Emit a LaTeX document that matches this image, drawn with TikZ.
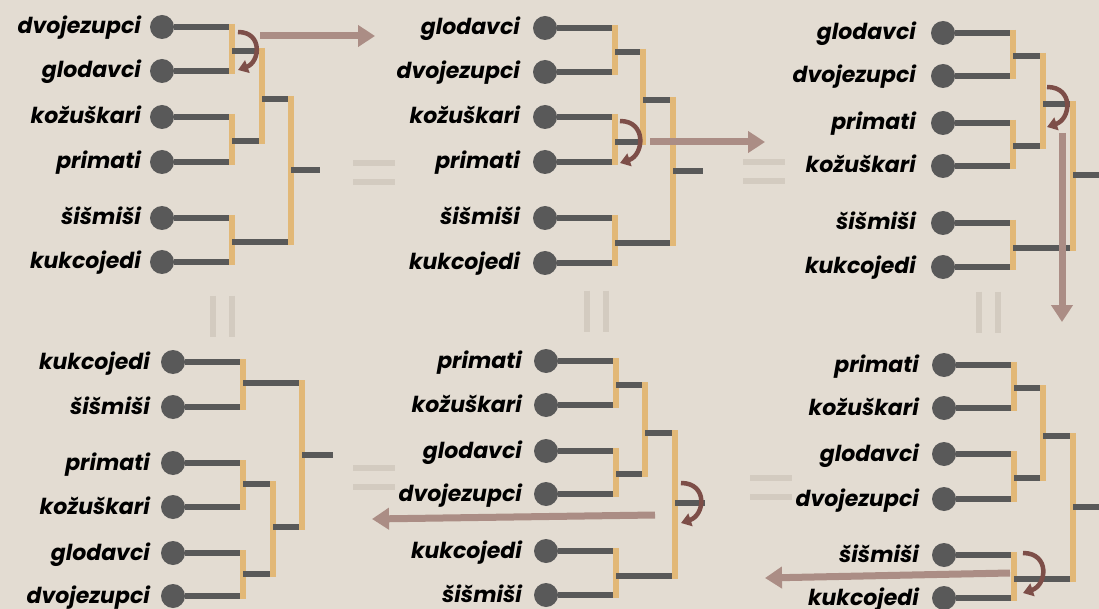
\documentclass[tikz,border=0pt]{standalone}
\usepackage{fontspec}
\setmainfont{Poppins}
\usetikzlibrary{arrows.meta}

\definecolor{bgcol}{HTML}{E3DCD2}
\definecolor{barorange}{HTML}{E2B877}
\definecolor{branchgray}{HTML}{595959}
\definecolor{movecol}{HTML}{AB8D85}
\definecolor{turncol}{HTML}{7D4E48}
\definecolor{eqcol}{HTML}{D3CBC0}

\tikzset{
	leaf/.style={circle, fill=branchgray, minimum size=24pt, inner sep=0pt},
	taxon/.style={anchor=base east, inner sep=0pt, font=\fontsize{22}{26}\selectfont\bfseries\itshape},
	branch/.style={draw=branchgray, line width=5.5pt},
	bar/.style={draw=barorange, line width=6pt, shorten <=-3pt, shorten >=-3pt},
	turn/.style={draw=turncol, line width=4.5pt, -{Triangle[length=10pt,width=13pt]}},
	move/.style={draw=movecol, line width=7pt, -{Triangle[length=17pt,width=21pt]}},
	eq/.style={draw=eqcol, line width=6pt},
}

% two children meet at the bar of their parent
\newcommand{\joinpair}[3]{%
	\draw[branch] (#1) -- (#1 -| #3);
	\draw[branch] (#2) -- (#2 -| #3);
	\draw[bar] (#1 -| #3) -- (#2 -| #3);
}

\begin{document}
\begin{tikzpicture}[x=1pt, y=-1pt]
	\fill[bgcol] (0,0) rectangle (1099,609);
	\useasboundingbox (0,0) rectangle (1099,609);
	% top left: starting tree
	\begin{scope}[shift={(162,27)}]
		\foreach \n/\t/\y in {a/dvojezupci/0, b/glodavci/44, c/kožuškari/90, d/primati/135, e/šišmiši/191, f/kukcojedi/235} {
			\node[leaf] (p1\n) at (0,\y) {};
			\node[taxon] (t1\n) at (-21,\y+7) {\t};
		}
		\coordinate (p1ab) at (70,24);
		\coordinate (p1cd) at (70,114);
		\coordinate (p1ef) at (70,215);
		\coordinate (p1abcd) at (100,72);
		\coordinate (p1r) at (129,143);
		\coordinate (p1o) at (158,143);
		\joinpair{p1a}{p1b}{p1ab}
		\joinpair{p1c}{p1d}{p1cd}
		\joinpair{p1ab}{p1cd}{p1abcd}
		\joinpair{p1e}{p1f}{p1ef}
		\joinpair{p1abcd}{p1ef}{p1r}
		\draw[branch] (p1r) -- (p1o);
		\draw[turn] ([shift={(6,-19)}]p1ab) .. controls +(25,0) and +(22,-8) .. ([shift={(6,19)}]p1ab);
	\end{scope}
	% top middle
	\begin{scope}[shift={(545,28)}]
		\foreach \n/\t/\y in {a/glodavci/0, b/dvojezupci/44, c/kožuškari/89, d/primati/134, e/šišmiši/190, f/kukcojedi/235} {
			\node[leaf] (p2\n) at (0,\y) {};
			\node[taxon] (t2\n) at (-25,\y+7) {\t};
		}
		\coordinate (p2ab) at (70,24);
		\coordinate (p2cd) at (70,114);
		\coordinate (p2ef) at (70,215);
		\coordinate (p2abcd) at (98,72);
		\coordinate (p2r) at (128,143);
		\coordinate (p2o) at (158,143);
		\joinpair{p2a}{p2b}{p2ab}
		\joinpair{p2c}{p2d}{p2cd}
		\joinpair{p2ab}{p2cd}{p2abcd}
		\joinpair{p2e}{p2f}{p2ef}
		\joinpair{p2abcd}{p2ef}{p2r}
		\draw[branch] (p2r) -- (p2o);
		\draw[turn] ([shift={(5,-21)}]p2cd) .. controls +(27,0) and +(24,-8) .. ([shift={(5,21)}]p2cd);
	\end{scope}
	% top right
	\begin{scope}[shift={(943,33)}]
		\foreach \n/\t/\y in {a/glodavci/0, b/dvojezupci/43, c/primati/90, d/kožuškari/133, e/šišmiši/190, f/kukcojedi/234} {
			\node[leaf] (p3\n) at (0,\y) {};
			\node[taxon] (t3\n) at (-27,\y+7) {\t};
		}
		\coordinate (p3ab) at (70,23);
		\coordinate (p3cd) at (70,113);
		\coordinate (p3ef) at (70,215);
		\coordinate (p3abcd) at (100,71);
		\coordinate (p3r) at (130,142);
		\coordinate (p3o) at (160,142);
		\joinpair{p3a}{p3b}{p3ab}
		\joinpair{p3c}{p3d}{p3cd}
		\joinpair{p3ab}{p3cd}{p3abcd}
		\joinpair{p3e}{p3f}{p3ef}
		\joinpair{p3abcd}{p3ef}{p3r}
		\draw[branch] (p3r) -- (p3o);
		\draw[turn] ([shift={(4,-17)}]p3abcd) .. controls +(27,0) and +(24,-8) .. ([shift={(4,23)}]p3abcd);
	\end{scope}
	% bottom left: final tree
	\begin{scope}[shift={(173,362)}]
		\foreach \n/\t/\y in {a/kukcojedi/0, b/šišmiši/45, c/primati/101, d/kožuškari/145, e/glodavci/191, f/dvojezupci/234} {
			\node[leaf] (p4\n) at (0,\y) {};
			\node[taxon] (t4\n) at (-23,\y+7) {\t};
		}
		\coordinate (p4ab) at (70,21);
		\coordinate (p4cd) at (70,122);
		\coordinate (p4ef) at (70,212);
		\coordinate (p4cdef) at (100,165);
		\coordinate (p4r) at (129,93);
		\coordinate (p4o) at (160,93);
		\joinpair{p4a}{p4b}{p4ab}
		\joinpair{p4c}{p4d}{p4cd}
		\joinpair{p4e}{p4f}{p4ef}
		\joinpair{p4cd}{p4ef}{p4cdef}
		\joinpair{p4ab}{p4cdef}{p4r}
		\draw[branch] (p4r) -- (p4o);
	\end{scope}
	% bottom middle
	\begin{scope}[shift={(546,361)}]
		\foreach \n/\t/\y in {a/primati/0, b/kožuškari/44, c/glodavci/90, d/dvojezupci/133, e/kukcojedi/190, f/šišmiši/234} {
			\node[leaf] (p5\n) at (0,\y) {};
			\node[taxon] (t5\n) at (-24,\y+7) {\t};
		}
		\coordinate (p5ab) at (70,24);
		\coordinate (p5cd) at (70,113);
		\coordinate (p5ef) at (70,215);
		\coordinate (p5abcd) at (99,72);
		\coordinate (p5r) at (129,142);
		\coordinate (p5o) at (159,142);
		\joinpair{p5a}{p5b}{p5ab}
		\joinpair{p5c}{p5d}{p5cd}
		\joinpair{p5ab}{p5cd}{p5abcd}
		\joinpair{p5e}{p5f}{p5ef}
		\joinpair{p5abcd}{p5ef}{p5r}
		\draw[branch] (p5r) -- (p5o);
		\draw[turn] ([shift={(6,-20)}]p5r) .. controls +(27,0) and +(24,-8) .. ([shift={(6,20)}]p5r);
	\end{scope}
	% bottom right
	\begin{scope}[shift={(944,365)}]
		\foreach \n/\t/\y in {a/primati/0, b/kožuškari/43, c/glodavci/89, d/dvojezupci/134, e/šišmiši/190, f/kukcojedi/233} {
			\node[leaf] (p6\n) at (0,\y) {};
			\node[taxon] (t6\n) at (-25,\y+7) {\t};
		}
		\coordinate (p6ab) at (70,23);
		\coordinate (p6cd) at (70,113);
		\coordinate (p6ef) at (70,214);
		\coordinate (p6abcd) at (99,71);
		\coordinate (p6r) at (129,142);
		\coordinate (p6o) at (159,142);
		\joinpair{p6a}{p6b}{p6ab}
		\joinpair{p6c}{p6d}{p6cd}
		\joinpair{p6ab}{p6cd}{p6abcd}
		\joinpair{p6e}{p6f}{p6ef}
		\joinpair{p6abcd}{p6ef}{p6r}
		\draw[branch] (p6r) -- (p6o);
		\draw[turn] ([shift={(9,-26)}]p6ef) .. controls +(27,0) and +(24,-8) .. ([shift={(9,14)}]p6ef);
	\end{scope}
	% moves from one tree to the next
	\coordinate (m1s) at (260,36);    \coordinate (m1e) at (375,36);
	\coordinate (m2s) at (650,142);   \coordinate (m2e) at (765,142);
	\coordinate (m3s) at (1062,133);  \coordinate (m3e) at (1062,322);
	\coordinate (m5s) at (655,515);   \coordinate (m5e) at (372,519);
	\coordinate (m6s) at (1010,573);  \coordinate (m6e) at (765,578);
	\foreach \m in {1,2,3,5,6} {\draw[move] (m\m s) -- (m\m e);}
	% equal signs between neighbours
	\foreach \x/\y in {353/163, 743/162, 353/468, 750/478} {
		\draw[eq] (\x,\y) -- ++(42,0);
		\draw[eq] (\x,\y+19) -- ++(42,0);
	}
	\foreach \x/\y in {213/296, 587/291, 979/292} {
		\draw[eq] (\x,\y) -- ++(0,41);
		\draw[eq] (\x+19,\y) -- ++(0,41);
	}
\end{tikzpicture}
\end{document}
